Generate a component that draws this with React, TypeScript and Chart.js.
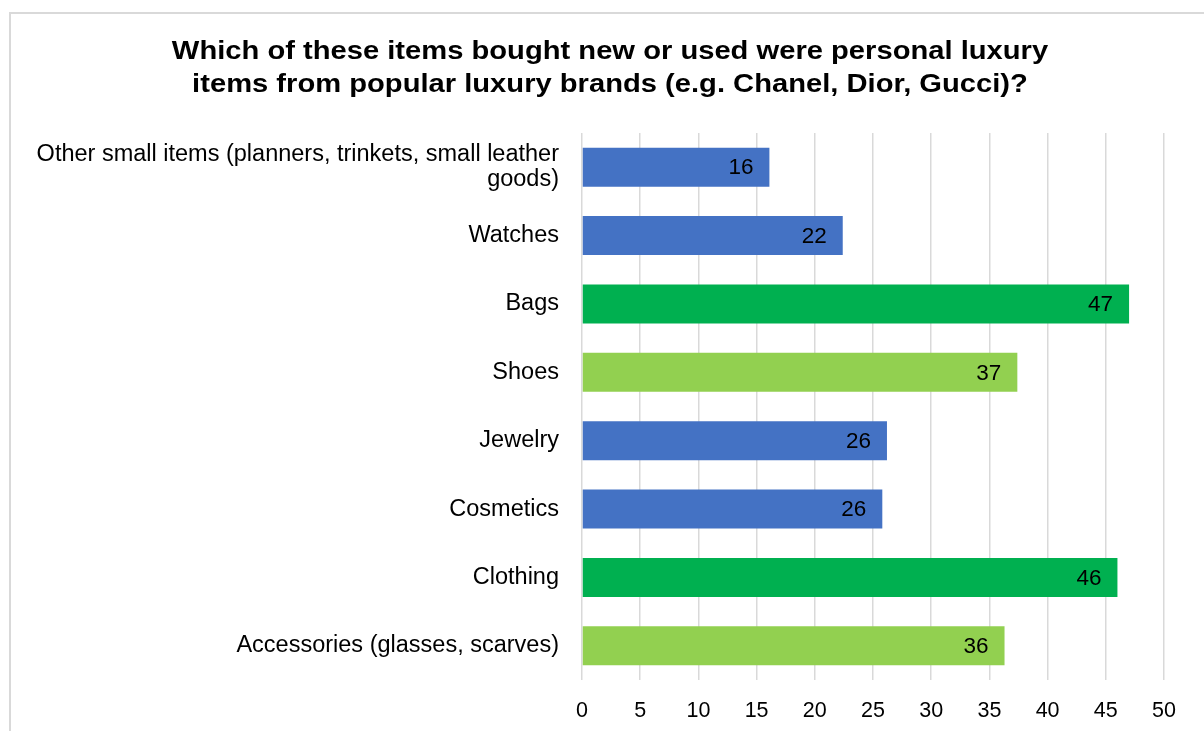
import React, { useEffect, useRef } from "react";
import { Chart, registerables } from "chart.js";

Chart.register(...registerables);

const TITLE_LINES = [
  "Which of these items bought new or used were personal luxury",
  "items from popular luxury brands (e.g. Chanel, Dior, Gucci)?",
];

const CATEGORIES: (string | string[])[] = [
  ["Other small items (planners, trinkets, small leather", "goods)"],
  "Watches",
  "Bags",
  "Shoes",
  "Jewelry",
  "Cosmetics",
  "Clothing",
  "Accessories (glasses, scarves)",
];

const VALUES = [16.1, 22.4, 47.0, 37.4, 26.2, 25.8, 46.0, 36.3];

const BLUE = "#4472C4";
const GREEN = "#00B050";
const LIGHT_GREEN = "#92D050";
const BAR_COLORS = [BLUE, BLUE, GREEN, LIGHT_GREEN, BLUE, BLUE, GREEN, LIGHT_GREEN];

const X_MIN = 0;
const X_MAX = 50;
const X_STEP = 5;

const FONT = "'Liberation Sans', Arial, sans-serif";

const titlePlugin = {
  id: "customTitle",
  afterDraw(chart: any) {
    const ctx = chart.ctx;
    ctx.save();
    ctx.font = `bold 26.5px ${FONT}`;
    ctx.fillStyle = "#000000";
    ctx.textAlign = "center";
    ctx.textBaseline = "alphabetic";
    const cx = 610;
    const baselines = [58.5, 92];
    TITLE_LINES.forEach((line, i) => {
      ctx.save();
      ctx.translate(cx, baselines[i]);
      ctx.scale(1.1, 1);
      ctx.fillText(line, 0, 0);
      ctx.restore();
    });
    ctx.restore();
  },
};

const valueLabelPlugin = {
  id: "valueLabels",
  afterDatasetsDraw(chart: any) {
    const ctx = chart.ctx;
    const meta = chart.getDatasetMeta(0);
    const data = chart.data.datasets[0].data as number[];
    ctx.save();
    ctx.font = `22.5px ${FONT}`;
    ctx.fillStyle = "#000000";
    ctx.textAlign = "right";
    ctx.textBaseline = "middle";
    meta.data.forEach((bar: any, i: number) => {
      ctx.fillText(String(Math.round(data[i])), bar.x - 16, bar.y + 1);
    });
    ctx.restore();
  },
};

export default function App() {
  const canvasRef = useRef<HTMLCanvasElement | null>(null);

  useEffect(() => {
    const canvas = canvasRef.current;
    if (!canvas) return;
    const chart = new Chart(canvas, {
      type: "bar",
      data: {
        labels: CATEGORIES,
        datasets: [
          {
            data: VALUES,
            backgroundColor: BAR_COLORS,
            borderWidth: 0,
            categoryPercentage: 1,
            barPercentage: 0.57,
          },
        ],
      },
      options: {
        indexAxis: "y",
        responsive: false,
        animation: false,
        devicePixelRatio: 1,
        layout: { padding: { left: 0, right: 40, top: 133, bottom: 0 } },
        plugins: {
          legend: { display: false },
          tooltip: { enabled: false },
          title: { display: false },
        },
        scales: {
          x: {
            min: X_MIN,
            max: X_MAX,
            border: { display: false },
            grid: { color: "#d9d9d9", lineWidth: 1.5, drawTicks: false },
            ticks: {
              stepSize: X_STEP,
              color: "#000000",
              font: { family: FONT, size: 21.5 },
              padding: 18,
              maxRotation: 0,
            },
            afterFit(scale: any) {
              scale.height = 51;
            },
          },
          y: {
            border: { display: false },
            grid: { display: false },
            ticks: {
              color: "#000000",
              font: { family: FONT, size: 23.5, lineHeight: 1.08 },
              padding: 15,
            },
            afterFit(scale: any) {
              scale.width = 582;
            },
          },
        },
      },
      plugins: [valueLabelPlugin, titlePlugin],
    });
    return () => chart.destroy();
  }, []);

  return (
    <div
      style={{
        position: "fixed",
        left: 0,
        top: 0,
        width: 1204,
        height: 731,
        overflow: "hidden",
        background: "#ffffff",
      }}
    >
      <div
        style={{
          position: "absolute",
          left: 9,
          top: 12,
          width: 1400,
          height: 1000,
          border: "2px solid #d9d9d9",
          boxSizing: "border-box",
        }}
      />
      <canvas
        ref={canvasRef}
        width={1204}
        height={731}
        style={{ position: "absolute", left: 0, top: 0, width: 1204, height: 731 }}
      />
    </div>
  );
}
